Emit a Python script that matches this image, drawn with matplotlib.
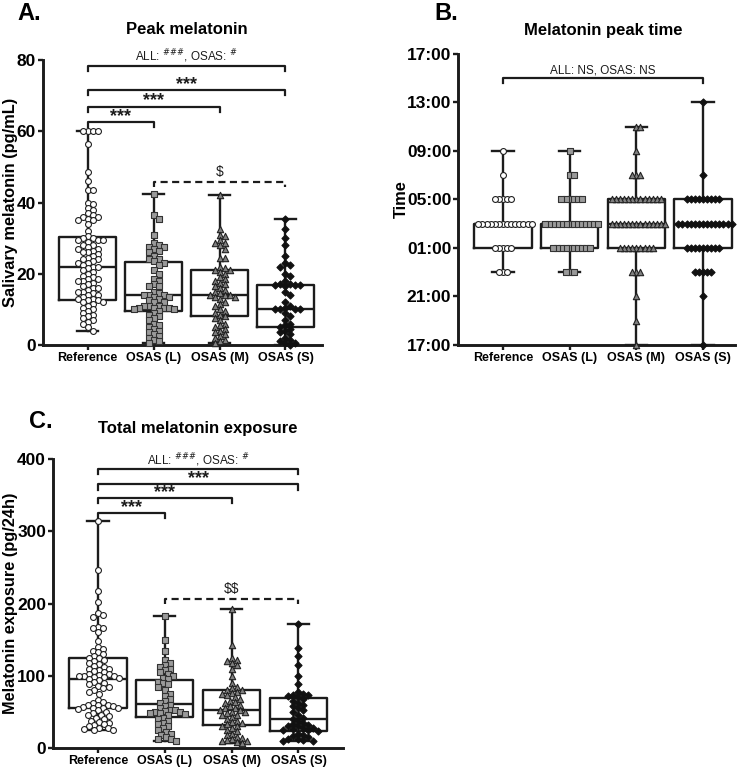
import numpy as np
import matplotlib.pyplot as plt

plt.rcParams['font.family'] = ['Liberation Sans', 'DejaVu Sans']

# Nhóm bệnh nhân
groups = ['Reference', 'OSAS (L)', 'OSAS (M)', 'OSAS (S)']

# ---- A. Peak melatonin (pg/mL) ----
peak_ref = [60, 60, 60, 60, 56.5, 48.5, 46, 43.5, 43.5, 40, 39.5, 38.5, 38, 37, 36.5, 36, 36, 35.5,
            35, 35, 34, 32, 30.5, 30, 30, 29.5, 29.5, 29.5, 29, 28, 28, 27.5, 27, 27, 26.5, 26, 26,
            25.5, 25, 24.5, 24, 24, 23.5, 23, 23, 22.5, 22, 22, 21.5, 21, 20.5, 20, 19.5, 19, 18.5,
            18.5, 18, 18, 17.5, 17, 16.5, 16, 16, 15.5, 15, 15, 14.5, 14, 14, 13.5, 13, 13, 12.5,
            12.5, 12, 12, 11.5, 11, 10.5, 10, 9.5, 9, 8.5, 8, 7.5, 7, 6.5, 6, 5, 4]
peak_l = [42.5, 36.5, 35.5, 31, 28.5, 28, 27.5, 27.5, 27, 26.5, 26, 25, 24, 24, 23.5, 23, 22.5, 21,
          20, 18.5, 18, 17, 16.5, 16.5, 15, 14.5, 14, 14, 14, 13.5, 13.5, 13, 12.5, 12, 12, 11,
          11, 11, 10.5, 10.5, 10.5, 10.5, 10, 10, 9.5, 9, 8.5, 8, 7.5, 7, 6, 5.5, 5, 4.5, 4, 3.5,
          3, 2.5, 2, 1.5, 1, 0.5]
peak_m = [42, 32.5, 31, 30.5, 29.5, 28.5, 28.5, 28, 27, 24.5, 24.5, 22, 21.5, 21, 21, 20.5, 20, 19,
          18.5, 18, 17.5, 17, 16.5, 16, 15.5, 15, 14.5, 14, 14, 14, 13.5, 13.5, 13, 12, 11.5, 11,
          10, 9.5, 9, 8.5, 8, 7.5, 7, 6, 5.5, 5, 4.5, 4, 3.5, 3, 2.5, 2, 1.5, 1, 0.5]
peak_s = [35.5, 32.5, 30, 28, 25, 23, 22.5, 22, 20, 19.5, 18, 17, 17, 16.8, 16.8, 16.8, 16.5, 15,
          14, 12, 11, 10.5, 10.2, 10, 10, 10, 9, 8, 7, 6, 5.5, 5, 4.5, 4, 3.5, 3, 2, 1.5, 1, 0.5,
          0.5, 0]
peak_box = {  # whislo, q1, med, q3, whishi
    'Reference': [4, 12.5, 22, 30.3, 60],
    'OSAS (L)': [0.5, 9.5, 14, 23.3, 42.5],
    'OSAS (M)': [0.5, 8, 14, 21, 42],
    'OSAS (S)': [0, 5, 10, 16.7, 35.5],
}

# ---- B. Melatonin peak time ----
time_ref = (['09:00', '07:00'] + ['05:00'] * 5 + ['03:00'] * 14 + ['01:00'] * 5 + ['23:00'] * 3)
time_l = (['09:00'] + ['07:00'] * 2 + ['05:00'] * 6 + ['03:00'] * 14 + ['01:00'] * 10 + ['23:00'] * 3)
time_m = (['11:00'] * 2 + ['09:00'] + ['07:00'] * 3 + ['05:00'] * 13 + ['03:00'] * 14
          + ['01:00'] * 9 + ['23:00'] * 3 + ['21:00', '19:00', '17:00'])
time_s = (['13:00', '07:00'] + ['05:00'] * 9 + ['03:00'] * 14 + ['01:00'] * 9 + ['23:00'] * 5
          + ['21:00', '17:00'])
time_box = {
    'Reference': ['23:00', '01:00', '03:00', '03:00', '09:00'],
    'OSAS (L)': ['23:00', '01:00', '03:00', '03:00', '09:00'],
    'OSAS (M)': ['17:00', '01:00', '03:00', '05:00', '11:00'],
    'OSAS (S)': ['17:00', '01:00', '03:00', '05:00', '13:00'],
}
time_ticks = ['17:00', '21:00', '01:00', '05:00', '09:00', '13:00', '17:00']

# ---- C. Total melatonin exposure (pg/24h) ----
expo_ref = [314, 246, 217, 202, 187, 184, 182, 168, 166, 166, 160, 148, 140, 137, 135, 133, 130,
            127, 125, 124, 122, 120, 118, 116, 113, 112, 110, 110, 108, 106, 105, 103, 102, 101,
            100, 100, 100, 99, 98, 97, 96, 94, 92, 90, 88, 86, 85, 83, 80, 78, 75, 66, 63, 62, 60,
            60, 59, 58, 57, 56, 55, 55, 54, 52, 50, 48, 46, 45, 44, 42, 40, 38, 36, 35, 33, 32, 30,
            28, 27, 26, 25, 25]
expo_l = [183, 150, 135, 122, 118, 115, 112, 110, 108, 105, 102, 100, 97, 95, 92, 90, 88, 85, 80,
          75, 72, 68, 65, 62, 60, 58, 55, 53, 52, 51, 50, 50, 49, 48, 47, 45, 42, 40, 38, 35, 33,
          30, 28, 25, 22, 20, 18, 15, 13, 12, 10]
expo_m = [192, 142, 125, 122, 120, 118, 115, 110, 100, 90, 85, 83, 80, 80, 78, 76, 75, 73, 70, 68,
          65, 63, 62, 60, 58, 56, 55, 53, 52, 50, 50, 48, 46, 45, 43, 40, 38, 36, 35, 33, 31, 30,
          28, 25, 23, 20, 18, 15, 14, 12, 11, 10, 9, 8, 7]
expo_s = [172, 138, 127, 115, 100, 88, 77, 75, 74, 73, 72, 70, 68, 65, 62, 60, 58, 55, 52, 50, 45,
          42, 40, 38, 35, 33, 32, 30, 30, 28, 27, 26, 25, 25, 24, 20, 18, 16, 15, 13, 12, 11, 10, 10]
expo_box = {
    'Reference': [25, 56, 95, 125, 314],
    'OSAS (L)': [10, 43, 61, 94, 183],
    'OSAS (M)': [7, 32, 52, 81, 192],
    'OSAS (S)': [10, 24, 40, 69, 172],
}

# Kiểu điểm cho từng nhóm
markers = ['o', 's', '^', 'D']
faces = ['white', '#9a9a9a', '#808080', '#111111']
edges = ['#222222', '#333333', '#222222', '#111111']
sizes = [18, 18, 21, 13]
ink = '#1c1c1c'


def to_hours(t):
    h, m = map(int, t.split(':'))
    return (h + m / 60 - 17) % 24


def swarm_x(ax, vals, pos, d):
    # xếp điểm kiểu beeswarm, tính bằng pixel
    vals = np.asarray(vals, float)
    pix = ax.transData.transform(np.column_stack([np.full(len(vals), pos), vals]))
    y = pix[:, 1]
    x0 = pix[0, 0]
    xs = np.full(len(vals), x0)
    cands = [0.0]
    for k in range(1, 300):
        cands += [k * d / 3, -k * d / 3]
    placed = []
    for i in np.argsort(-vals):
        for c in cands:
            ok = True
            for px, py in placed:
                dy = abs(py - y[i])
                if dy < d and abs(px - (x0 + c)) < np.sqrt(d * d - dy * dy) - 1e-6:
                    ok = False
                    break
            if ok:
                break
        xs[i] = x0 + c
        placed.append((x0 + c, y[i]))
    return ax.transData.inverted().transform(np.column_stack([xs, y]))[:, 0]


def panel(ax, data, box, xlim, ylim, d):
    ax.set_xlim(*xlim)
    ax.set_ylim(*ylim)
    stats = []
    for g in groups:
        lo, q1, med, q3, hi = box[g]
        stats.append(dict(whislo=lo, q1=q1, med=med, q3=q3, whishi=hi, label=g))
    lp = dict(color=ink, linewidth=1.7)
    ax.bxp(stats, positions=range(4), widths=0.86, capwidths=0.32, showfliers=False,
           boxprops=lp, whiskerprops=lp, capprops=lp, medianprops=lp, zorder=2)
    ax.set_xlim(*xlim)
    ax.set_ylim(*ylim)
    for i, vals in enumerate(data):
        xs = swarm_x(ax, vals, i, d)
        ax.scatter(xs, vals, marker=markers[i], s=sizes[i], facecolor=faces[i],
                   edgecolor=edges[i], linewidth=0.8, zorder=3, clip_on=False)
    for s in ['top', 'right']:
        ax.spines[s].set_visible(False)
    for s in ['left', 'bottom']:
        ax.spines[s].set_linewidth(2.1)
        ax.spines[s].set_color(ink)
    ax.tick_params(width=1.7, length=3.5, pad=1.5, color=ink)
    ax.set_xticks(range(4))
    ax.set_xticklabels(groups, fontsize=9, fontweight='bold')


def bracket(ax, x1, x2, y, h, text, fs=13, dashed=False, bold=True, dy=-2):
    ax.plot([x1, x1, x2, x2], [y - h, y, y, y - h], color=ink, lw=1.6,
            ls=(0, (3.2, 2)) if dashed else '-', clip_on=False, zorder=4)
    ax.annotate(text, xy=((x1 + x2) / 2, y), xytext=(0, dy), textcoords='offset points',
                ha='center', va='bottom', fontsize=fs, fontweight='bold' if bold else 'normal',
                color=ink, annotation_clip=False)


fig = plt.figure(figsize=(7.5, 7.7), dpi=100)

# Panel A
axA = fig.add_axes([0.057, 0.552, 0.372, 0.370])
panel(axA, [peak_ref, peak_l, peak_m, peak_s], peak_box, (-0.68, 3.55), (0, 80), 5.0)
axA.set_yticks([0, 20, 40, 60, 80])
axA.set_yticklabels(['0', '20', '40', '60', '80'], fontsize=12.5, fontweight='bold')
axA.set_ylabel('Salivary melatonin (pg/mL)', fontsize=11.8, fontweight='bold')
axA.yaxis.set_label_coords(-0.09, 0.5)
stat_txt = r'ALL: $^{\#\#\#}$, OSAS: $^{\#}$'
bracket(axA, 0, 3, 78.4, 1.4, stat_txt, fs=8.5, bold=False, dy=0.5)
bracket(axA, 0, 3, 71.6, 1.4, '***')
bracket(axA, 0, 2, 66.9, 1.4, '***')
bracket(axA, 0, 1, 62.6, 1.4, '***')
bracket(axA, 1, 3, 45.8, 1.4, r'\$', fs=10, dashed=True, bold=False, dy=2)

# Panel B
axB = fig.add_axes([0.611, 0.552, 0.369, 0.378])
tdata = [[to_hours(t) for t in d] for d in [time_ref, time_l, time_m, time_s]]
tbox = {g: [to_hours(t) for t in time_box[g]] for g in groups}
panel(axB, tdata, tbox, (-0.67, 3.48), (0, 24), 4.1)
axB.set_yticks(range(0, 25, 4))
axB.set_yticklabels(time_ticks, fontsize=12.5, fontweight='bold')
axB.set_ylabel('Time', fontsize=11.8, fontweight='bold')
axB.yaxis.set_label_coords(-0.18, 0.5)
bracket(axB, 0, 3, 22, 0.4, 'ALL: NS, OSAS: NS', fs=8.5, bold=False, dy=1)

# Panel C
axC = fig.add_axes([0.0707, 0.0286, 0.387, 0.375])
panel(axC, [expo_ref, expo_l, expo_m, expo_s], expo_box, (-0.67, 3.67), (0, 400), 5.0)
axC.set_yticks([0, 100, 200, 300, 400])
axC.set_yticklabels(['0', '100', '200', '300', '400'], fontsize=12.5, fontweight='bold')
axC.set_ylabel('Melatonin exposure (pg/24h)', fontsize=11.8, fontweight='bold')
axC.yaxis.set_label_coords(-0.122, 0.5)
bracket(axC, 0, 3, 386, 7, stat_txt, fs=8.5, bold=False, dy=0.5)
bracket(axC, 0, 3, 365, 7, '***')
bracket(axC, 0, 2, 346, 7, '***')
bracket(axC, 0, 1, 325, 7, '***')
bracket(axC, 1, 3, 206, 7, r'\$\$', fs=10, dashed=True, bold=False, dy=2)

# Tiêu đề và chữ cái của từng hình
fig.text(187 / 750, 1 - 30 / 770, 'Peak melatonin', ha='center', va='center',
         fontsize=12, fontweight='bold')
fig.text(603 / 750, 1 - 30 / 770, 'Melatonin peak time', ha='center', va='center',
         fontsize=12, fontweight='bold')
fig.text(198 / 750, 1 - 429 / 770, 'Total melatonin exposure', ha='center', va='center',
         fontsize=12, fontweight='bold')
fig.text(17 / 750, 1 - 14 / 770, 'A.', ha='left', va='center', fontsize=17, fontweight='bold')
fig.text(434 / 750, 1 - 14 / 770, 'B.', ha='left', va='center', fontsize=17, fontweight='bold')
fig.text(29 / 750, 1 - 422 / 770, 'C.', ha='left', va='center', fontsize=17, fontweight='bold')

fig.savefig('out.png', dpi=100)
